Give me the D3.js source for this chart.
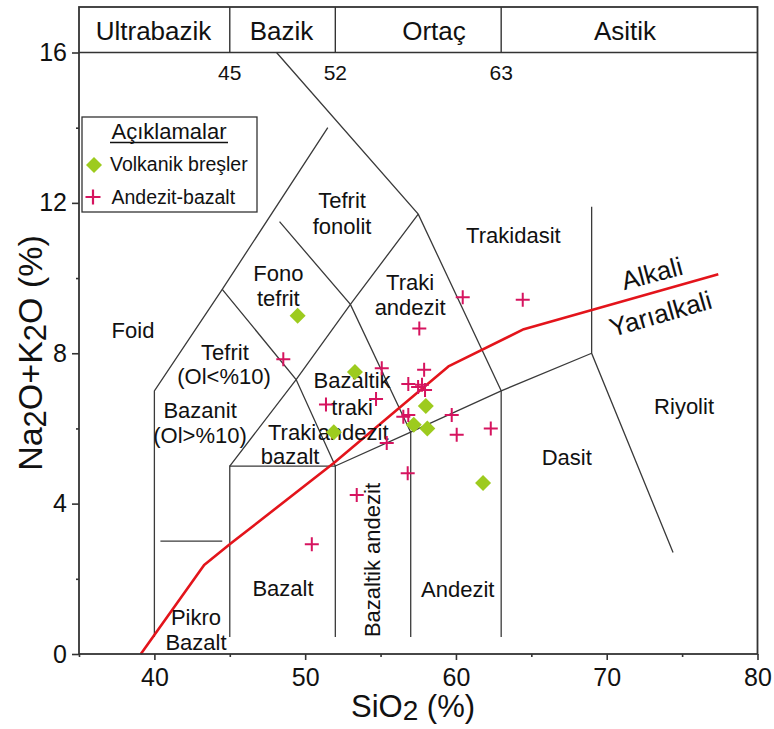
<!DOCTYPE html>
<html><head><meta charset="utf-8">
<script src="https://cdn.jsdelivr.net/npm/d3@7"></script>
<style>
body{margin:0;background:#fff}
svg{display:block}
text{font-family:"Liberation Sans",Arial,sans-serif;fill:#111}
</style>
</head><body>
<svg id="chart" width="774" height="729"></svg>
<script>
// ---- data ----
const xTickValues = [40, 50, 60, 70, 80];
const xMinorTicks = [35, 45, 55, 65, 75];
const yTickValues = [0, 4, 8, 12, 16];
const yMinorTicks = [2, 6, 10, 14];
const silicaClassBounds = [35, 45, 52, 63, 80];
const silicaClassNames = ["Ultrabazik", "Bazik", "Ortaç", "Asitik"];
const silicaClassCentres = [46.2, 48.1, 58.1, 70.1];
const silicaBoundValues = [45, 52, 63];
const silicaBoundLabels = ["45", "52", "63"];

// TAS field boundaries (SiO2, Na2O+K2O)
const fieldLines = [
  [[40, 0.45], [40, 7], [44.5, 9.7], [51.5, 14]],
  [[48.1, 16], [57.5, 11.7], [63, 7]],
  [[57.5, 11.7], [53, 9.3], [49.4, 7.3], [45, 5]],
  [[44.5, 9.7], [49.4, 7.3], [52, 5]],
  [[48.3, 11.5], [53, 9.3], [57, 5.9]],
  [[45, 0.45], [45, 5], [52, 5], [52, 0.45]],
  [[52, 5], [57, 5.9], [63, 7], [69, 8]],
  [[57, 5.9], [57, 0.45]],
  [[63, 7], [63, 0.45]],
  [[69, 11.9], [69, 8], [74.4, 2.7]],
  [[40.4, 3], [44.5, 3]]
];

// Alkali / subalkali divide
const alkaliDivideSiO2 = [39.1, 43.3, 45.1, 51.9, 59.5, 64.5, 77.4];
const alkaliDivideAlk  = [0, 2.37, 2.95, 5.08, 7.65, 8.64, 10.1];

// Volkanik breşler
const volkanikSiO2 = [49.5, 53.3, 51.9, 58.0, 57.2, 58.1, 61.8];
const volkanikAlk  = [9.0, 7.5, 5.9, 6.6, 6.1, 6.0, 4.55];

// Andezit-bazalt
const andezitSiO2 = [48.55, 50.44, 53.42, 55.41, 56.80, 51.38, 54.70, 55.08, 56.51, 56.84,
                     57.57, 60.45, 64.43, 57.89, 56.84, 57.49, 57.75, 57.95, 59.72, 60.05, 62.31];
const andezitAlk  = [7.84, 2.92, 4.23, 5.61, 4.81, 6.64, 6.78, 7.60, 6.31, 6.36,
                     8.66, 9.49, 9.42, 7.56, 7.18, 7.10, 7.16, 7.02, 6.36, 5.83, 6.00];

// Field names (label text with anchor in SiO2 / alkali units)
const fieldNameText = ["Foid", "Tefrit", "(Ol<%10)", "Bazanit", "(Ol>%10)", "Fono", "tefrit",
  "Tefrit", "fonolit", "Traki", "andezit", "Trakidasit", "Bazaltik", "traki", "andezit",
  "Traki", "bazalt", "Bazalt", "Pikro", "Bazalt", "Andezit", "Dasit", "Riyolit"];
const fieldNameSiO2 = [38.58, 44.68, 44.62, 43.03, 43.03, 48.22, 48.22, 52.45, 52.45, 56.96, 56.96,
  63.81, 53.11, 53.11, 53.18, 49.13, 49.0, 48.53, 42.76, 42.76, 60.12, 67.35, 75.13];
const fieldNameAlk = [8.62, 8.04, 7.40, 6.49, 5.83, 10.13, 9.46, 12.08, 11.37, 9.90, 9.22,
  11.15, 7.29, 6.58, 5.91, 5.91, 5.27, 1.75, 0.99, 0.33, 1.72, 5.25, 6.60];

// ---- drawing ----
const svg = d3.select("#chart");
const pLeft = 79, pRight = 757.5, pTop = 52.5, pBottom = 654, headTop = 7;

const x = d3.scaleLinear().domain([35, 80]).range([pLeft, pRight]);
const y = d3.scaleLinear().domain([0, 16]).range([pBottom, pTop]);

const C_LINE = "#3a3a3a", C_AX = "#333";

// field boundaries
const lineGen = d3.line().x(d => x(d[0])).y(d => y(d[1]));
svg.append("g").selectAll("path").data(fieldLines).join("path")
  .attr("d", lineGen).attr("fill", "none").attr("stroke", C_LINE).attr("stroke-width", 1.3);

// alkali divide
const divide = alkaliDivideSiO2.map((v, i) => [v, alkaliDivideAlk[i]]);
svg.append("path").attr("d", lineGen(divide)).attr("fill", "none")
  .attr("stroke", "#e3141b").attr("stroke-width", 2.6).attr("stroke-linejoin", "round");

// field labels
svg.append("g").selectAll("text").data(fieldNameText).join("text")
  .attr("x", (d, i) => x(fieldNameSiO2[i])).attr("y", (d, i) => y(fieldNameAlk[i]))
  .attr("dy", "0.36em").attr("text-anchor", "middle").attr("font-size", 22)
  .text(d => d);

// vertical label
svg.append("text").attr("transform", `translate(${x(54.44)},${y(2.5)}) rotate(-90)`)
  .attr("dy", "0.36em").attr("text-anchor", "middle").attr("font-size", 22).text("Bazaltik andezit");

// Alkali / Yarialkali
svg.append("text").attr("transform", `translate(${x(72.99)},${y(10.13)}) rotate(-15)`)
  .attr("dy", "0.36em").attr("text-anchor", "middle").attr("font-size", 26).text("Alkali");
svg.append("text").attr("transform", `translate(${x(73.56)},${y(9.06)}) rotate(-16)`)
  .attr("dy", "0.36em").attr("text-anchor", "middle").attr("font-size", 26).text("Yarıalkali");

// markers
const C_PLUS = "#d6145f", C_DIA = "#9dcb1e";
function diaPath(s) { return `M0,${-s}L${s},0L0,${s}L${-s},0Z`; }
function plusPath(s) { return `M${-s},0H${s}M0,${-s}V${s}`; }

svg.append("g").selectAll("path").data(volkanikSiO2).join("path")
  .attr("transform", (d, i) => `translate(${x(d)},${y(volkanikAlk[i])})`)
  .attr("d", diaPath(8)).attr("fill", C_DIA);

svg.append("g").selectAll("path").data(andezitSiO2).join("path")
  .attr("transform", (d, i) => `translate(${x(d)},${y(andezitAlk[i])})`)
  .attr("d", plusPath(7)).attr("fill", "none").attr("stroke", C_PLUS).attr("stroke-width", 2);

// axes
const gx = svg.append("g").attr("transform", `translate(0,${pBottom})`)
  .call(d3.axisBottom(x).tickValues(xTickValues).tickSize(6).tickSizeOuter(0).tickPadding(8).tickFormat(d3.format("d")));
const gxm = svg.append("g").attr("transform", `translate(0,${pBottom})`)
  .call(d3.axisBottom(x).tickValues(xMinorTicks).tickSize(3).tickSizeOuter(0).tickFormat(""));
const gy = svg.append("g").attr("transform", `translate(${pLeft},0)`)
  .call(d3.axisLeft(y).tickValues(yTickValues).tickSize(7).tickSizeOuter(0).tickPadding(5).tickFormat(d3.format("d")));
const gym = svg.append("g").attr("transform", `translate(${pLeft},0)`)
  .call(d3.axisLeft(y).tickValues(yMinorTicks).tickSize(3).tickSizeOuter(0).tickFormat(""));
[gx, gxm, gy, gym].forEach(g => {
  g.select(".domain").remove();
  g.selectAll("line").attr("stroke", C_AX).attr("stroke-width", 1.6);
  g.selectAll("text").attr("font-size", 25).attr("fill", "#111")
    .style("font-family", '"Liberation Sans",Arial,sans-serif');
});

// frame
svg.append("rect").attr("x", pLeft).attr("y", headTop).attr("width", pRight - pLeft).attr("height", pBottom - headTop)
  .attr("fill", "none").attr("stroke", C_AX).attr("stroke-width", 1.8);
svg.append("line").attr("x1", pLeft).attr("x2", pRight).attr("y1", pTop).attr("y2", pTop)
  .attr("stroke", C_AX).attr("stroke-width", 1.6);

// header class dividers and names
svg.append("g").selectAll("line").data(silicaBoundValues).join("line")
  .attr("x1", d => x(d)).attr("x2", d => x(d)).attr("y1", headTop).attr("y2", pTop)
  .attr("stroke", C_AX).attr("stroke-width", 1.4);
const headerX = [153.5, 281.5, 434, 625];
svg.append("g").selectAll("text").data(silicaClassNames).join("text")
  .attr("x", (d, i) => headerX[i])
  .attr("y", 40).attr("text-anchor", "middle").attr("font-size", 26).text(d => d);
svg.append("g").selectAll("text").data(silicaBoundLabels).join("text")
  .attr("x", (d, i) => x(silicaBoundValues[i])).attr("y", 79.5)
  .attr("text-anchor", "middle").attr("font-size", 21).text(d => d);

// legend
const lg = svg.append("g");
lg.append("rect").attr("x", 82).attr("y", 117).attr("width", 175).attr("height", 95)
  .attr("fill", "#fff").attr("stroke", C_AX).attr("stroke-width", 1.3);
lg.append("text").attr("x", 169).attr("y", 139).attr("text-anchor", "middle").attr("font-size", 22).text("Açıklamalar");
lg.append("line").attr("x1", 110).attr("x2", 228).attr("y1", 142.5).attr("y2", 142.5).attr("stroke", "#111").attr("stroke-width", 1.5);
lg.append("path").attr("transform", "translate(94,165)").attr("d", diaPath(8)).attr("fill", C_DIA);
lg.append("text").attr("x", 110).attr("y", 171).attr("font-size", 19.5).text("Volkanik breşler");
lg.append("path").attr("transform", "translate(93,197)").attr("d", plusPath(7.5))
  .attr("stroke", C_PLUS).attr("stroke-width", 2.2);
lg.append("text").attr("x", 111.5).attr("y", 203.5).attr("font-size", 19.5).text("Andezit-bazalt");

// axis titles
const xt = svg.append("text").attr("x", 413).attr("y", 717).attr("text-anchor", "middle").attr("font-size", 31);
xt.append("tspan").text("SiO");
xt.append("tspan").attr("dy", 3).attr("font-size", 28).text("2");
xt.append("tspan").attr("dy", -3).text(" (%)");

const yt = svg.append("text").attr("transform", "translate(42,353) rotate(-90)").attr("text-anchor", "middle").attr("font-size", 34);
yt.append("tspan").text("Na");
yt.append("tspan").attr("dy", 4).attr("font-size", 31).text("2");
yt.append("tspan").attr("dy", -4).text("O+K");
yt.append("tspan").attr("dy", 4).attr("font-size", 31).text("2");
yt.append("tspan").attr("dy", -4).text("O (%)");
</script>
</body></html>
